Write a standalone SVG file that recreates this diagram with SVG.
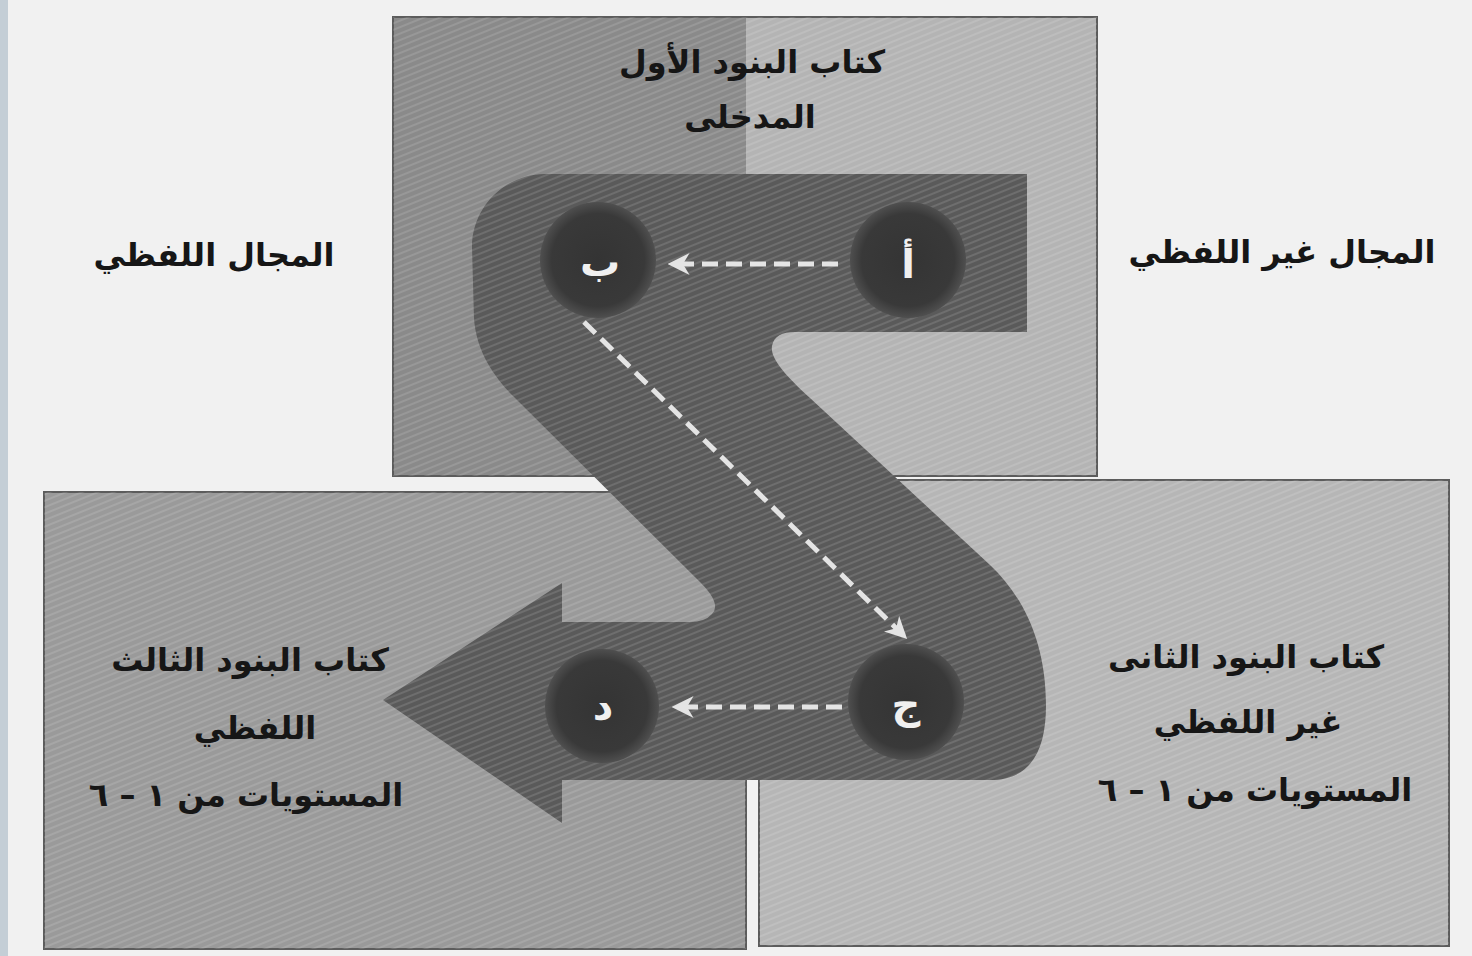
<svg xmlns="http://www.w3.org/2000/svg" width="1472" height="956" viewBox="0 0 1472 956">
  <style>
    .lbl { font-family: "DejaVu Sans", "Liberation Sans", sans-serif; font-weight: bold; font-size: 32px; fill: #161616; text-anchor: middle; direction: rtl; }
    .ltr { font-family: "DejaVu Sans", "Liberation Sans", sans-serif; font-weight: bold; font-size: 40px; fill: #f0f0f0; text-anchor: middle; }
    .box { stroke: #5c5c5c; stroke-width: 2; }
    .dash { fill: none; stroke: #e4e4e4; stroke-width: 5; stroke-dasharray: 16 8; }
  </style>
  <defs>
    <pattern id="scan" width="6" height="6" patternUnits="userSpaceOnUse" patternTransform="rotate(-22)">
      <line x1="0" y1="1" x2="6" y2="1" stroke="#ffffff" stroke-opacity="0.12" stroke-width="2"/>
    </pattern>
    <radialGradient id="disc" cx="0.5" cy="0.5" r="0.5">
      <stop offset="0" stop-color="#343434"/>
      <stop offset="0.8" stop-color="#393939"/>
      <stop offset="1" stop-color="#4f4f4f"/>
    </radialGradient>
    <marker id="ah" viewBox="0 0 10 10" refX="8" refY="5" markerWidth="4.4" markerHeight="4.4" orient="auto-start-reverse" markerUnits="strokeWidth">
      <path d="M0,0 L10,5 L0,10 L3,5 Z" fill="#e4e4e4"/>
    </marker>
  </defs>

  <rect x="0" y="0" width="1472" height="956" fill="#f1f1f1"/>
  <rect x="0" y="0" width="8" height="956" fill="#c4ced6"/>

  <g id="box-top">
    <rect x="393" y="17" width="704" height="459" fill="#b4b4b4" class="box"/>
    <rect x="394" y="18" width="352" height="457" fill="#8a8a8a"/>
    <rect x="393" y="17" width="704" height="459" fill="url(#scan)"/>
  </g>
  <g id="box-bottom-left">
    <rect x="44" y="492" width="702" height="457" fill="#9a9a9a" class="box"/>
    <rect x="44" y="492" width="702" height="457" fill="url(#scan)"/>
  </g>
  <g id="box-bottom-right">
    <rect x="759" y="480" width="690" height="466" fill="#b6b6b6" class="box"/>
    <rect x="759" y="480" width="690" height="466" fill="url(#scan)"/>
  </g>

  <g id="road">
    <path d="M1027,174 L545,174 C505,174 472,207 472,247 L474,318 C476,348 490,372 512,395 L700,582 Q722,604 712,614 Q705,622 690,622 L562,622 L562,583 L383,700 L562,823 L562,780 L990,780 C1030,780 1046,752 1046,705 C1046,645 1025,598 990,565 L810,398 C785,375 770,358 772,346 C774,336 782,332 795,332 L1027,332 Z" fill="#5a5a5a"/>
    <path d="M1027,174 L545,174 C505,174 472,207 472,247 L474,318 C476,348 490,372 512,395 L700,582 Q722,604 712,614 Q705,622 690,622 L562,622 L562,583 L383,700 L562,823 L562,780 L990,780 C1030,780 1046,752 1046,705 C1046,645 1025,598 990,565 L810,398 C785,375 770,358 772,346 C774,336 782,332 795,332 L1027,332 Z" fill="url(#scan)"/>
  </g>

  <g id="node-a">
    <circle cx="908" cy="260" r="58" fill="url(#disc)"/>
    <text x="908" y="278" class="ltr">أ</text>
  </g>
  <g id="node-b">
    <circle cx="598" cy="260" r="58" fill="url(#disc)"/>
    <text x="600" y="276" class="ltr">ب</text>
  </g>
  <g id="node-c">
    <circle cx="906" cy="702" r="58" fill="url(#disc)"/>
    <text x="906" y="718" class="ltr">ج</text>
  </g>
  <g id="node-d">
    <circle cx="602" cy="706" r="57" fill="url(#disc)"/>
    <text x="603" y="720" class="ltr">د</text>
  </g>

  <g id="connectors">
    <line x1="838" y1="264" x2="672" y2="264" class="dash" marker-end="url(#ah)"/>
    <line x1="584" y1="322" x2="904" y2="636" class="dash" marker-end="url(#ah)"/>
    <line x1="842" y1="707" x2="676" y2="707" class="dash" marker-end="url(#ah)"/>
  </g>

  <g id="label-first">
    <text x="752" y="73" class="lbl">كتاب البنود الأول</text>
    <text x="750" y="128" class="lbl">المدخلى</text>
  </g>
  <g id="label-verbal">
    <text x="214" y="266" class="lbl">المجال اللفظي</text>
  </g>
  <g id="label-nonverbal">
    <text x="1282" y="263" class="lbl">المجال غير اللفظي</text>
  </g>
  <g id="label-third">
    <text x="250" y="671" class="lbl">كتاب البنود الثالث</text>
    <text x="255" y="739" class="lbl">اللفظي</text>
    <text x="246" y="806" class="lbl">المستويات من ١ – ٦</text>
  </g>
  <g id="label-second">
    <text x="1246" y="668" class="lbl">كتاب البنود الثانى</text>
    <text x="1248" y="733" class="lbl">غير اللفظي</text>
    <text x="1255" y="801" class="lbl">المستويات من ١ – ٦</text>
  </g>
</svg>
